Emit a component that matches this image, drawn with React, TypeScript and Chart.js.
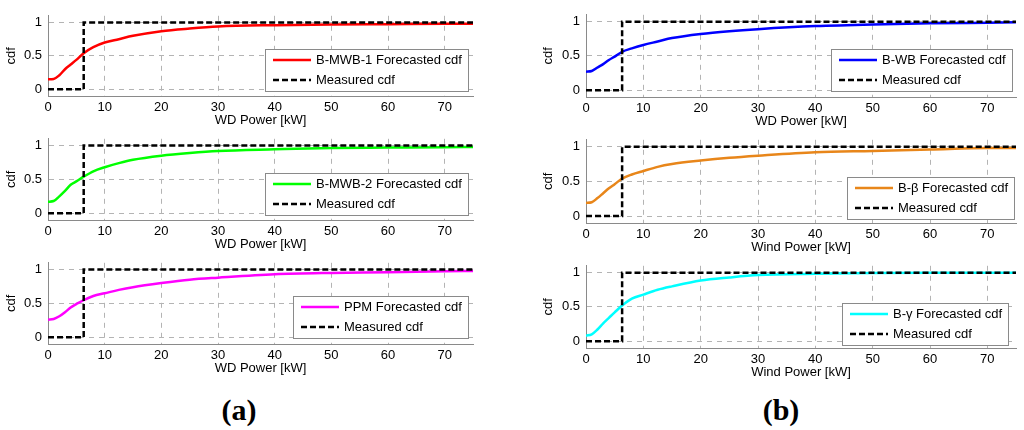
import React, { useEffect, useRef } from 'react';
import { Chart, registerables } from 'chart.js';

Chart.register(...registerables);

const FONT = '"Liberation Sans", Arial, Helvetica, sans-serif';

// ---- data ----
const xTicks = [0, 10, 20, 30, 40, 50, 60, 70];
const yTicks = [0, 0.5, 1];
const xPts = [0, 1, 2, 3, 4, 5, 6.3, 8, 10, 12.5, 15, 20, 25, 30, 40, 50, 60, 70, 75];

const mwb1Cdf = [0.15, 0.155, 0.21, 0.3, 0.37, 0.44, 0.54, 0.63, 0.7, 0.75, 0.8, 0.87, 0.91, 0.94, 0.96, 0.97, 0.975, 0.98, 0.98];
const mwb2Cdf = [0.17, 0.18, 0.25, 0.33, 0.42, 0.47, 0.54, 0.62, 0.68, 0.74, 0.79, 0.85, 0.89, 0.92, 0.945, 0.965, 0.97, 0.975, 0.98];
const ppmCdf = [0.26, 0.27, 0.31, 0.37, 0.44, 0.49, 0.55, 0.61, 0.65, 0.7, 0.74, 0.8, 0.85, 0.88, 0.93, 0.95, 0.96, 0.975, 0.98];
const wbCdf = [0.27, 0.28, 0.33, 0.38, 0.44, 0.49, 0.56, 0.61, 0.66, 0.71, 0.76, 0.82, 0.86, 0.89, 0.935, 0.96, 0.975, 0.985, 0.99];
const betaCdf = [0.19, 0.2, 0.26, 0.33, 0.4, 0.46, 0.54, 0.6, 0.65, 0.71, 0.75, 0.8, 0.84, 0.87, 0.92, 0.94, 0.96, 0.98, 0.98];
const gammaCdf = [0.08, 0.1, 0.17, 0.26, 0.34, 0.42, 0.52, 0.62, 0.68, 0.75, 0.8, 0.885, 0.93, 0.965, 0.985, 0.995, 1.0, 1.0, 1.0];

const measuredX = [0, 6.3, 6.3, 75];
const measuredY = [0, 0, 1, 1];

const seriesLabels = [
  'B-MWB-1 Forecasted cdf',
  'B-MWB-2 Forecasted cdf',
  'PPM Forecasted cdf',
  'B-WB Forecasted cdf',
  'B-\u03B2 Forecasted cdf',
  'B-\u03B3 Forecasted cdf',
];
const seriesValues = [mwb1Cdf, mwb2Cdf, ppmCdf, wbCdf, betaCdf, gammaCdf];
const seriesColors = ['#ff0000', '#00ff00', '#ff00ff', '#0000ff', '#e8861a', '#00ffff'];
const xTitles = ['WD Power [kW]', 'WD Power [kW]', 'WD Power [kW]', 'WD Power [kW]', 'Wind Power [kW]', 'Wind Power [kW]'];
const measuredLabel = 'Measured cdf';
const yTitle = 'cdf';

// ---- layout (positions only) ----
type Geo = { left: number; width: number; areaTop: number; areaH: number; yw: number; titlePad: number; legR: number; legB: number };
const PT = 6;
const PR = 7;
const XH = 32;
const geos: Geo[] = [
  { left: 0, width: 480, areaTop: 8, areaH: 88, yw: 48, titlePad: 4, legR: 5, legB: 5 },
  { left: 0, width: 480, areaTop: 131, areaH: 89, yw: 48, titlePad: 4, legR: 5, legB: 5 },
  { left: 0, width: 480, areaTop: 255, areaH: 89, yw: 48, titlePad: 4, legR: 5, legB: 6 },
  { left: 536, width: 487, areaTop: 7, areaH: 90, yw: 50, titlePad: 5, legR: 4, legB: 6 },
  { left: 536, width: 487, areaTop: 132, areaH: 91, yw: 50, titlePad: 5, legR: 2, legB: 4 },
  { left: 536, width: 487, areaTop: 258, areaH: 90, yw: 50, titlePad: 5, legR: 8, legB: 3 },
];

const boxLegend = {
  id: 'boxLegend',
  afterDraw(chart: any, _args: any, opts: any) {
    const { ctx, chartArea } = chart;
    ctx.save();
    ctx.font = '13px ' + FONT;
    const ds = chart.data.datasets;
    const tw = Math.max(...ds.map((d: any) => ctx.measureText(d.label).width));
    const padL = 8, lineLen = 38, gap = 5, padR = 6, h = 42;
    const w = Math.round(padL + lineLen + gap + tw + padR);
    const x = Math.round(chartArea.right - opts.right - w);
    const y = Math.round(chartArea.bottom - opts.bottom - h);
    ctx.fillStyle = '#ffffff';
    ctx.fillRect(x, y, w, h);
    ctx.strokeStyle = '#8a8a8a';
    ctx.lineWidth = 1;
    ctx.strokeRect(x + 0.5, y + 0.5, w, h);
    ds.forEach((d: any, i: number) => {
      const cy = y + 11 + i * 20;
      ctx.beginPath();
      ctx.setLineDash(d.borderDash || []);
      ctx.strokeStyle = d.borderColor;
      ctx.lineWidth = 2.5;
      ctx.moveTo(x + padL, cy);
      ctx.lineTo(x + padL + lineLen, cy);
      ctx.stroke();
      ctx.setLineDash([]);
      ctx.fillStyle = '#000';
      ctx.textBaseline = 'middle';
      ctx.textAlign = 'left';
      ctx.fillText(d.label, x + padL + lineLen + gap, cy + 0.5);
    });
    ctx.restore();
  },
};

function Panel({ idx }: { idx: number }) {
  const ref = useRef<HTMLCanvasElement | null>(null);
  const g = geos[idx];
  const height = PT + g.areaH + XH;
  useEffect(() => {
    if (!ref.current) return;
    const tickFont = { family: FONT, size: 13 };
    const chart = new Chart(ref.current, {
      type: 'line',
      data: {
        datasets: [
          {
            label: seriesLabels[idx],
            data: xPts.map((x, i) => ({ x, y: seriesValues[idx][i] })),
            borderColor: seriesColors[idx],
            borderWidth: 2.5,
            pointRadius: 0,
            cubicInterpolationMode: 'monotone',
            order: 1,
          } as any,
          {
            label: measuredLabel,
            data: measuredX.map((x, i) => ({ x, y: measuredY[i] })),
            borderColor: '#000000',
            borderWidth: 2.5,
            borderDash: [6, 3],
            pointRadius: 0,
            tension: 0,
            order: 0,
          } as any,
        ],
      },
      options: {
        animation: false,
        responsive: false,
        maintainAspectRatio: false,
        layout: { padding: { top: PT, right: PR, left: 0, bottom: 0 } },
        plugins: {
          legend: { display: false },
          tooltip: { enabled: false },
          boxLegend: { right: g.legR, bottom: g.legB },
        } as any,
        scales: {
          x: {
            type: 'linear',
            min: 0,
            max: 75,
            afterBuildTicks: (s: any) => { s.ticks = xTicks.map((v) => ({ value: v })); },
            afterFit: (s: any) => { s.height = XH; },
            ticks: { color: '#000', font: tickFont, padding: 4, maxRotation: 0, autoSkip: false, callback: (v: any) => String(v) },
            grid: { color: '#b4b4b4', drawTicks: false, lineWidth: 1 },
            border: { display: true, color: '#8a8a8a', width: 1, dash: [5, 5] },
            title: { display: true, text: xTitles[idx], color: '#000', font: tickFont, padding: { top: 0, bottom: 0 } },
          },
          y: {
            type: 'linear',
            min: -0.1,
            max: 1.1,
            afterBuildTicks: (s: any) => { s.ticks = yTicks.map((v) => ({ value: v })); },
            afterFit: (s: any) => { s.width = g.yw; },
            ticks: { color: '#000', font: tickFont, padding: 6, callback: (v: any) => String(v) },
            grid: { color: '#b4b4b4', drawTicks: false, lineWidth: 1 },
            border: { display: true, color: '#8a8a8a', width: 1, dash: [5, 5] },
            title: { display: true, text: yTitle, color: '#000', font: tickFont, padding: { top: g.titlePad, bottom: 0 } },
          },
        },
      } as any,
      plugins: [boxLegend as any],
    });
    return () => chart.destroy();
  }, [idx]);
  return (
    <canvas
      ref={ref}
      width={g.width}
      height={height}
      style={{ position: 'absolute', left: g.left, top: g.areaTop - PT, width: g.width, height }}
    />
  );
}

export default function App() {
  const labelStyle: React.CSSProperties = {
    position: 'absolute',
    width: 100,
    textAlign: 'center',
    fontFamily: '"Liberation Serif", "Times New Roman", serif',
    fontWeight: 700,
    fontSize: 30,
    lineHeight: '30px',
    color: '#000',
  };
  return (
    <div style={{ position: 'absolute', left: 0, top: 0, width: 1024, height: 430, background: '#fff', overflow: 'hidden' }}>
      {geos.map((_, i) => (
        <Panel key={i} idx={i} />
      ))}
      <div style={{ ...labelStyle, left: 189, top: 395 }}>(a)</div>
      <div style={{ ...labelStyle, left: 731, top: 395 }}>(b)</div>
    </div>
  );
}
